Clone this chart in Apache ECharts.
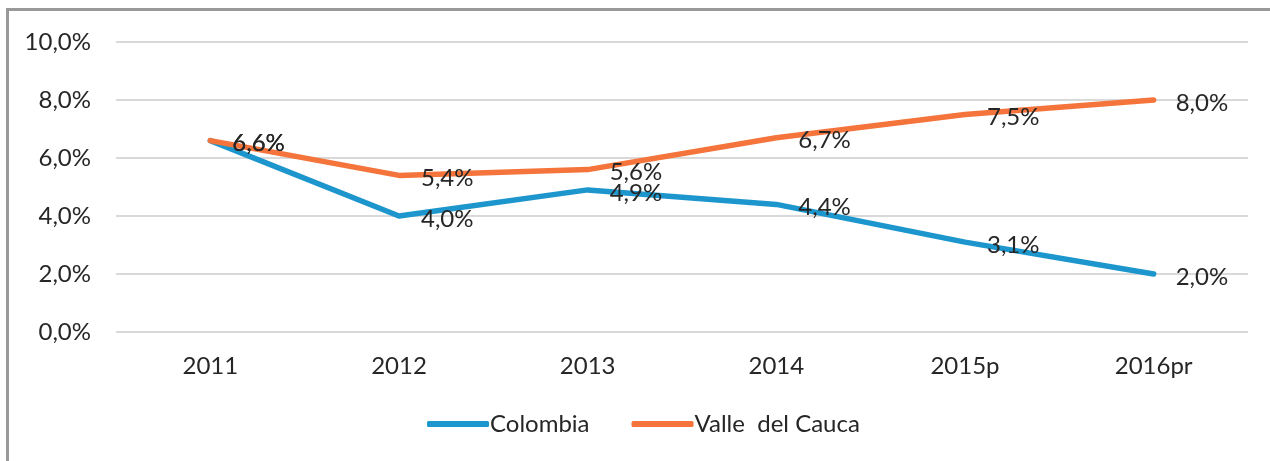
<!DOCTYPE html>
<html><head><meta charset="utf-8">
<script src="https://cdn.jsdelivr.net/npm/echarts@6/dist/echarts.min.js"></script>
<style>html,body{margin:0;padding:0;background:#fff;}#c{width:1270px;height:461px;}</style>
</head><body><div id="c"></div>
<script>
const categories = ['2011','2012','2013','2014','2015p','2016pr'];
const colombia = [6.6, 4.0, 4.9, 4.4, 3.1, 2.0];
const valle = [6.6, 5.4, 5.6, 6.7, 7.5, 8.0];
const yTicks = [0, 2, 4, 6, 8, 10];
const FONT = 'Lato';
const FS = 24;
const fmt = v => v.toFixed(1).replace('.', ',') + '%';
const chart = echarts.init(document.getElementById('c'), null, {renderer:'canvas'});
const labelCfg = {show:true, position:'right', distance:22, offset:[0,3], color:'#262626', fontFamily:FONT, fontSize:FS,
  formatter: p => fmt(p.value)};
chart.setOption({
  animation:false,
  graphic:[{type:'rect', shape:{x:7.5, y:9.5, width:1300, height:500}, style:{fill:'none', stroke:'#999999', lineWidth:3}, z:-1}],
  grid:{left:116, right:22, top:42, bottom:129},
  legend:{bottom:20, left:422, itemWidth:62, itemHeight:6, itemGap:42,
    textStyle:{fontFamily:FONT, fontSize:FS, color:'#262626', padding:[0,0,0,-4]},
    data:[{name:'Colombia', icon:'roundRect'},{name:'Valle  del Cauca', icon:'roundRect'}]},
  xAxis:{type:'category', data:categories, boundaryGap:true,
    axisLine:{show:false}, axisTick:{show:false},
    axisLabel:{margin:22, color:'#262626', fontFamily:FONT, fontSize:FS}},
  yAxis:{type:'value', min:yTicks[0], max:yTicks[yTicks.length-1], interval:2,
    axisLine:{show:false}, axisTick:{show:false},
    splitLine:{lineStyle:{color:'#d9d9d9', width:2}},
    axisLabel:{margin:25, color:'#262626', fontFamily:FONT, fontSize:FS, formatter: v => fmt(v)}},
  series:[
    {name:'Colombia', type:'line', data:colombia, symbol:'circle', symbolSize:0, showSymbol:true, lineStyle:{color:'#1C96CC', width:5.5, cap:'round', join:'round'}, itemStyle:{color:'#1C96CC'}, label:labelCfg},
    {name:'Valle  del Cauca', type:'line', data:valle, symbol:'circle', symbolSize:0, showSymbol:true, lineStyle:{color:'#F4743B', width:5.5, cap:'round', join:'round'}, itemStyle:{color:'#F4743B'}, label:labelCfg}
  ]
});
</script></body></html>
